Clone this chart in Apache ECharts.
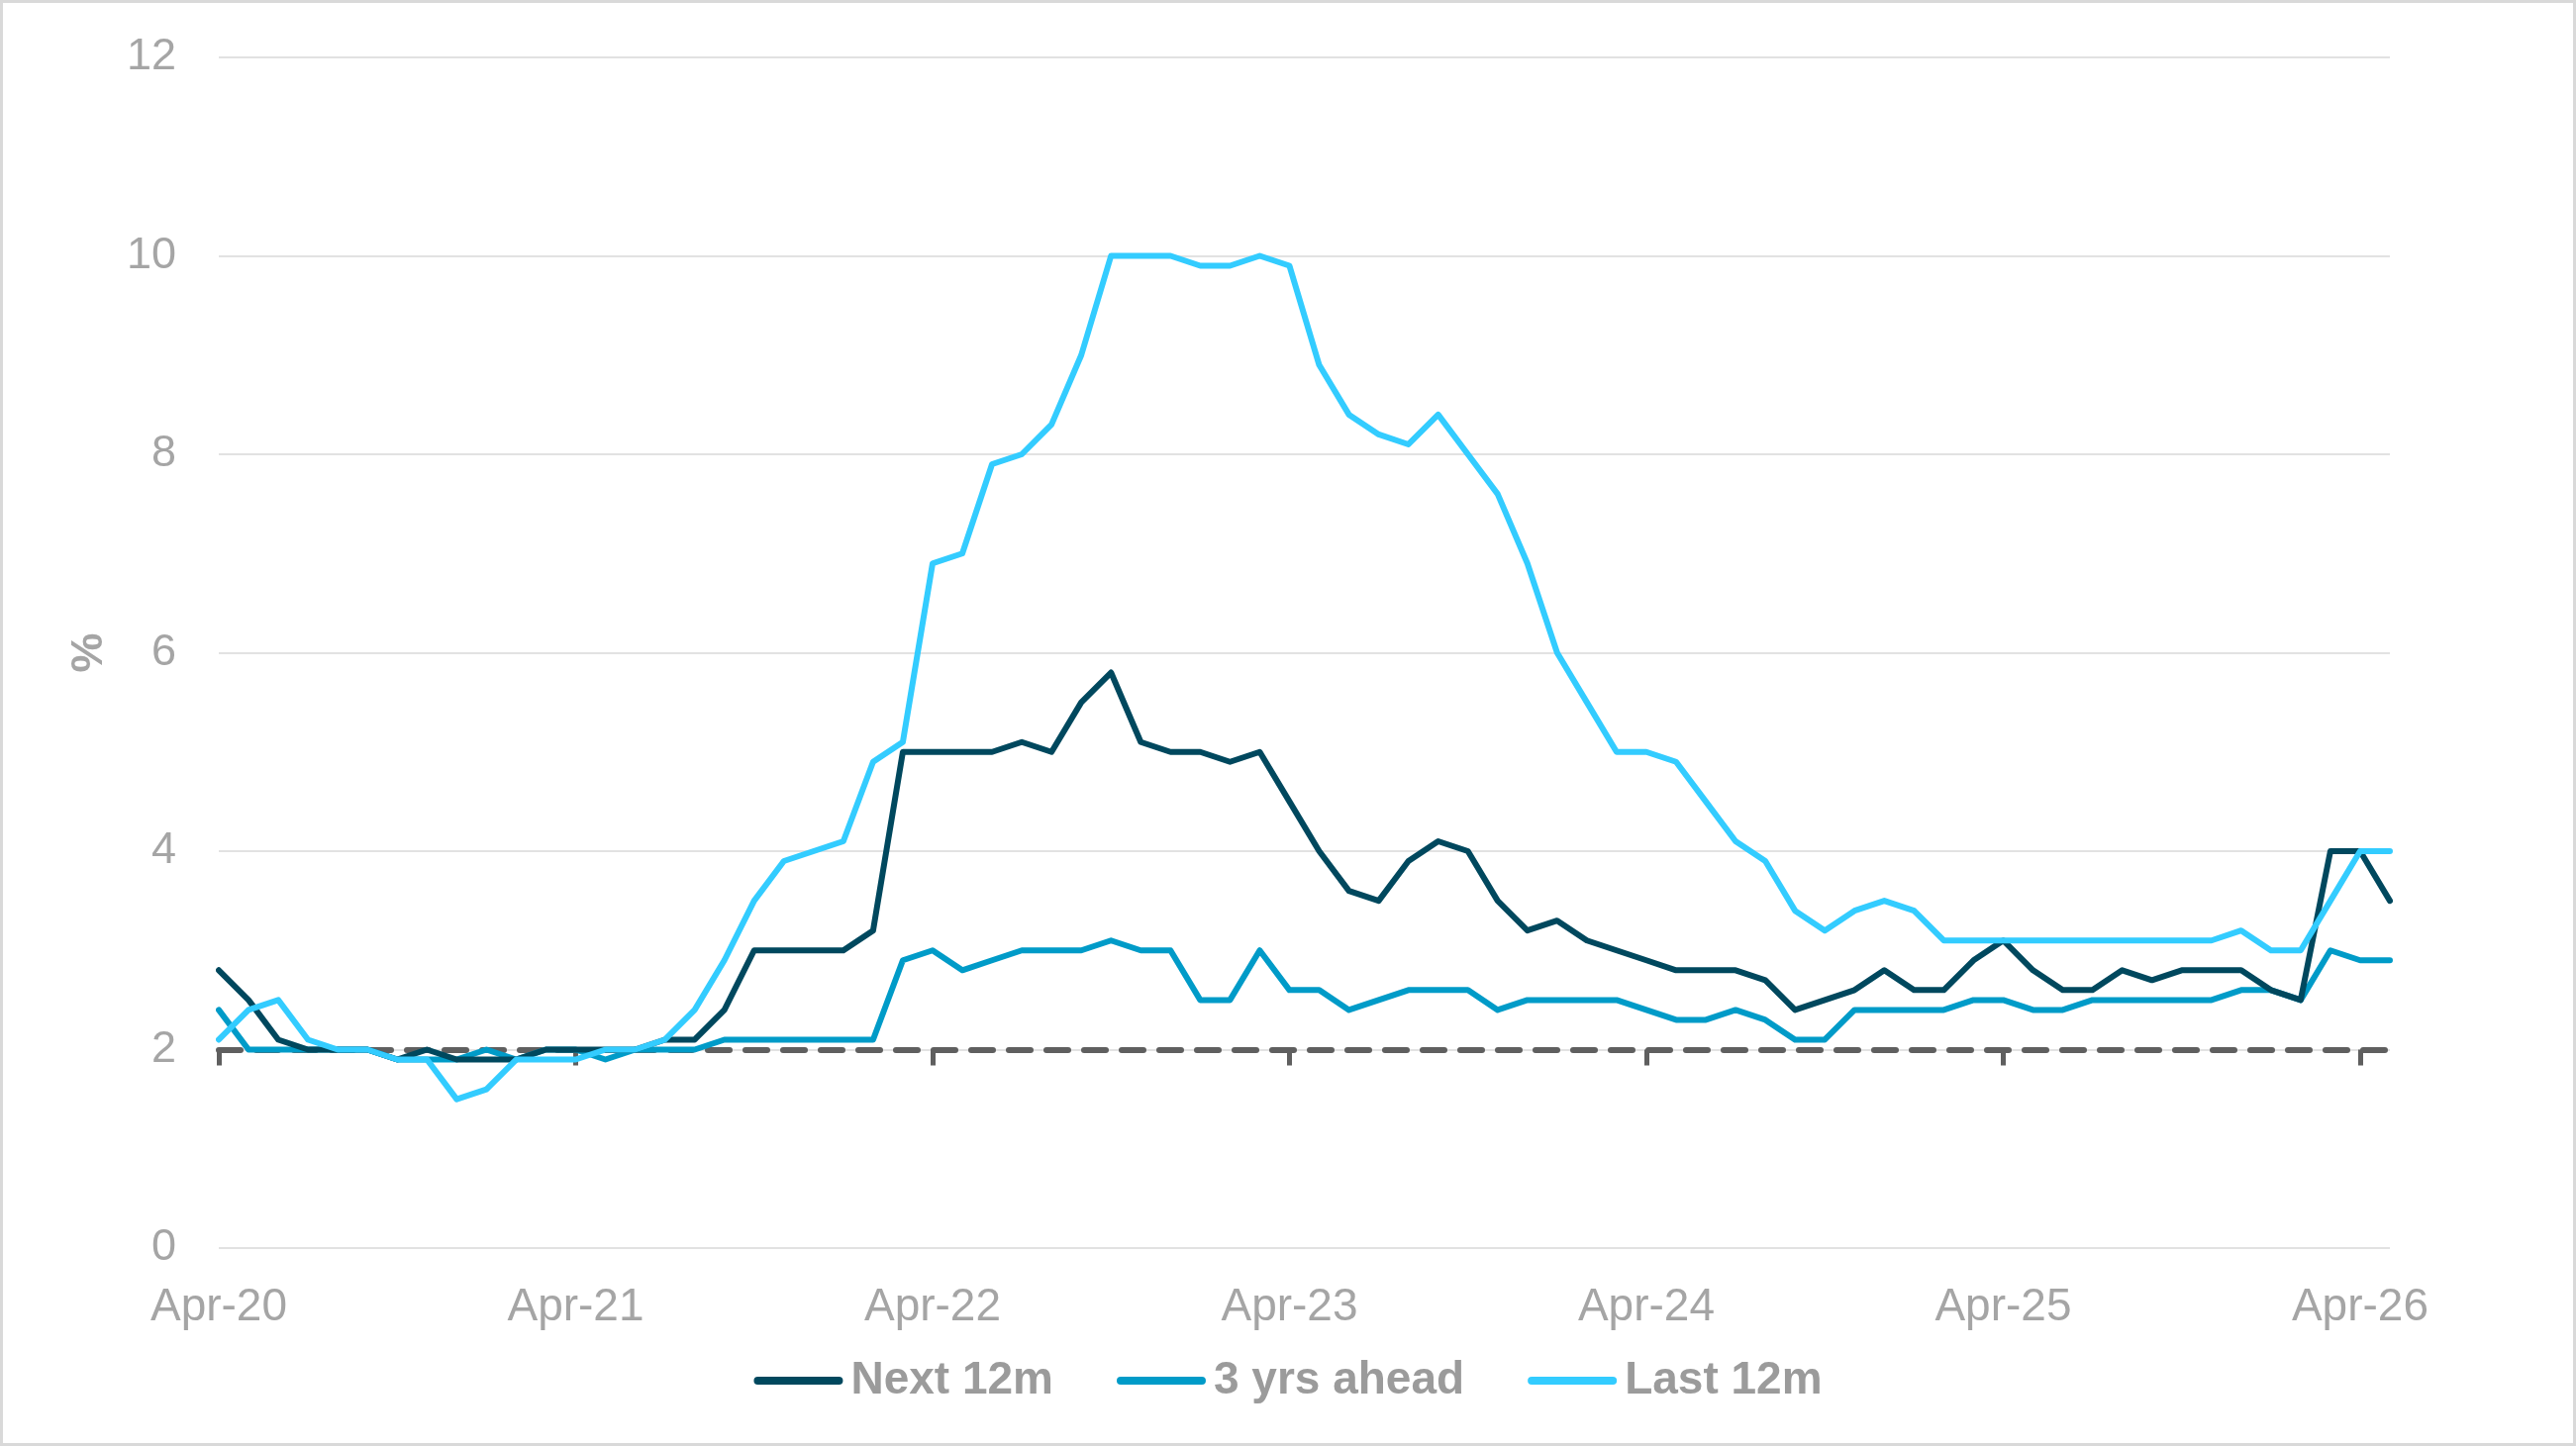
<!DOCTYPE html>
<html>
<head>
<meta charset="utf-8">
<script src="https://cdn.jsdelivr.net/npm/echarts@6/dist/echarts.min.js"></script>
<style>
  body { margin: 0; background: #fff; }
  #chart { position: absolute; left: 0; top: 0; width: 2602px; height: 1461px; }
  #frame { position: absolute; left: 0; top: 0; width: 2602px; height: 1461px;
           box-sizing: border-box; border: 3px solid #d9d9d9; pointer-events: none; }
</style>
</head>
<body>
<div id="chart"></div>
<div id="frame"></div>
<script>
// months Apr-20 .. May-26
var months = ['Jan','Feb','Mar','Apr','May','Jun','Jul','Aug','Sep','Oct','Nov','Dec'];
var categories = [];
for (var k = 0; k < 74; k++) {
    var m = (3 + k) % 12;
    var y = 20 + Math.floor((3 + k) / 12);
    categories.push(months[m] + '-' + y);
}

var next12m = [
    2.8, 2.5, 2.1, 2.0, 2.0, 2.0, 1.9, 2.0, 1.9, 1.9, 1.9, 2.0,
    2.0, 2.0, 2.0, 2.1, 2.1, 2.4, 3.0, 3.0, 3.0, 3.0, 3.2, 5.0,
    5.0, 5.0, 5.0, 5.1, 5.0, 5.5, 5.8, 5.1, 5.0, 5.0, 4.9, 5.0,
    4.5, 4.0, 3.6, 3.5, 3.9, 4.1, 4.0, 3.5, 3.2, 3.3, 3.1, 3.0,
    2.9, 2.8, 2.8, 2.8, 2.7, 2.4, 2.5, 2.6, 2.8, 2.6, 2.6, 2.9,
    3.1, 2.8, 2.6, 2.6, 2.8, 2.7, 2.8, 2.8, 2.8, 2.6, 2.5, 4.0,
    4.0, 3.5
];
var threeYrs = [
    2.4, 2.0, 2.0, 2.0, 2.0, 2.0, 1.9, 1.9, 1.9, 2.0, 1.9, 2.0,
    2.0, 1.9, 2.0, 2.0, 2.0, 2.1, 2.1, 2.1, 2.1, 2.1, 2.1, 2.9,
    3.0, 2.8, 2.9, 3.0, 3.0, 3.0, 3.1, 3.0, 3.0, 2.5, 2.5, 3.0,
    2.6, 2.6, 2.4, 2.5, 2.6, 2.6, 2.6, 2.4, 2.5, 2.5, 2.5, 2.5,
    2.4, 2.3, 2.3, 2.4, 2.3, 2.1, 2.1, 2.4, 2.4, 2.4, 2.4, 2.5,
    2.5, 2.4, 2.4, 2.5, 2.5, 2.5, 2.5, 2.5, 2.6, 2.6, 2.5, 3.0,
    2.9, 2.9
];
var last12m = [
    2.1, 2.4, 2.5, 2.1, 2.0, 2.0, 1.9, 1.9, 1.5, 1.6, 1.9, 1.9,
    1.9, 2.0, 2.0, 2.1, 2.4, 2.9, 3.5, 3.9, 4.0, 4.1, 4.9, 5.1,
    6.9, 7.0, 7.9, 8.0, 8.3, 9.0, 10.0, 10.0, 10.0, 9.9, 9.9, 10.0,
    9.9, 8.9, 8.4, 8.2, 8.1, 8.4, 8.0, 7.6, 6.9, 6.0, 5.5, 5.0,
    5.0, 4.9, 4.5, 4.1, 3.9, 3.4, 3.2, 3.4, 3.5, 3.4, 3.1, 3.1,
    3.1, 3.1, 3.1, 3.1, 3.1, 3.1, 3.1, 3.1, 3.2, 3.0, 3.0, 3.5,
    4.0, 4.0
];

var font = "'Liberation Sans', Arial, sans-serif";
var grey = '#a5a5a5';
// capsule-shaped legend marker
var capsule = 'path://M4,0 L86,0 A4,4 0 0 1 86,8 L4,8 A4,4 0 0 1 4,0 Z';

var chart = echarts.init(document.getElementById('chart'));
var option = {
    animation: false,
    textStyle: {fontFamily: font},
    grid: {left: 221, right: 188, top: 58, bottom: 200, containLabel: false},
    legend: {
        data: [
            {name: 'Next 12m', icon: capsule},
            {name: '3 yrs ahead', icon: capsule},
            {name: 'Last 12m', icon: capsule}
        ],
        left: 'center',
        top: 1367,
        itemWidth: 90,
        itemHeight: 8,
        itemGap: 64,
        textStyle: {fontSize: 46, fontWeight: 'bold', color: '#9b9b9b', fontFamily: font, padding: [0, 0, 0, 3]}
    },
    xAxis: [{
        type: 'category',
        data: categories,
        boundaryGap: false,
        axisLine: {show: false, onZero: false},
        axisTick: {show: false},
        axisLabel: {interval: 11, fontSize: 46, color: grey, margin: 37, fontFamily: font},
        splitLine: {show: false}
    }, {
        // horizontal axis crossing at 2 (dashed)
        type: 'category',
        data: categories,
        boundaryGap: false,
        position: 'bottom',
        axisLine: {
            show: true, onZero: true, onZeroAxisIndex: 1,
            lineStyle: {color: '#5f5f5f', width: 6, type: [22, 16]}
        },
        axisTick: {show: true, interval: 11, length: 16, lineStyle: {color: '#5f5f5f', width: 5}},
        axisLabel: {show: false},
        splitLine: {show: false}
    }],
    yAxis: [{
        type: 'value',
        min: 0,
        max: 12,
        interval: 2,
        name: '%',
        nameLocation: 'middle',
        nameGap: 108,
        nameTextStyle: {fontSize: 45, fontWeight: 'bold', color: grey, fontFamily: font},
        axisLine: {show: false},
        axisTick: {show: false},
        axisLabel: {fontSize: 45, color: grey, margin: 43, fontFamily: font},
        splitLine: {lineStyle: {color: '#e2e2e2', width: 2}}
    }, {
        type: 'value',
        min: -2,
        max: 10,
        show: false,
        splitLine: {show: false}
    }],
    series: [{
        name: 'Next 12m',
        type: 'line',
        data: next12m,
        showSymbol: false,
        symbol: 'none',
        color: '#00485e',
        lineStyle: {width: 6, color: '#00485e', cap: 'round', join: 'round'},
        z: 4
    }, {
        name: '3 yrs ahead',
        type: 'line',
        data: threeYrs,
        showSymbol: false,
        symbol: 'none',
        color: '#009bc8',
        lineStyle: {width: 6, color: '#009bc8', cap: 'round', join: 'round'},
        z: 3
    }, {
        name: 'Last 12m',
        type: 'line',
        data: last12m,
        showSymbol: false,
        symbol: 'none',
        color: '#33ccff',
        lineStyle: {width: 6, color: '#33ccff', cap: 'round', join: 'round'},
        z: 5
    }]
};
chart.setOption(option);
</script>
</body>
</html>
